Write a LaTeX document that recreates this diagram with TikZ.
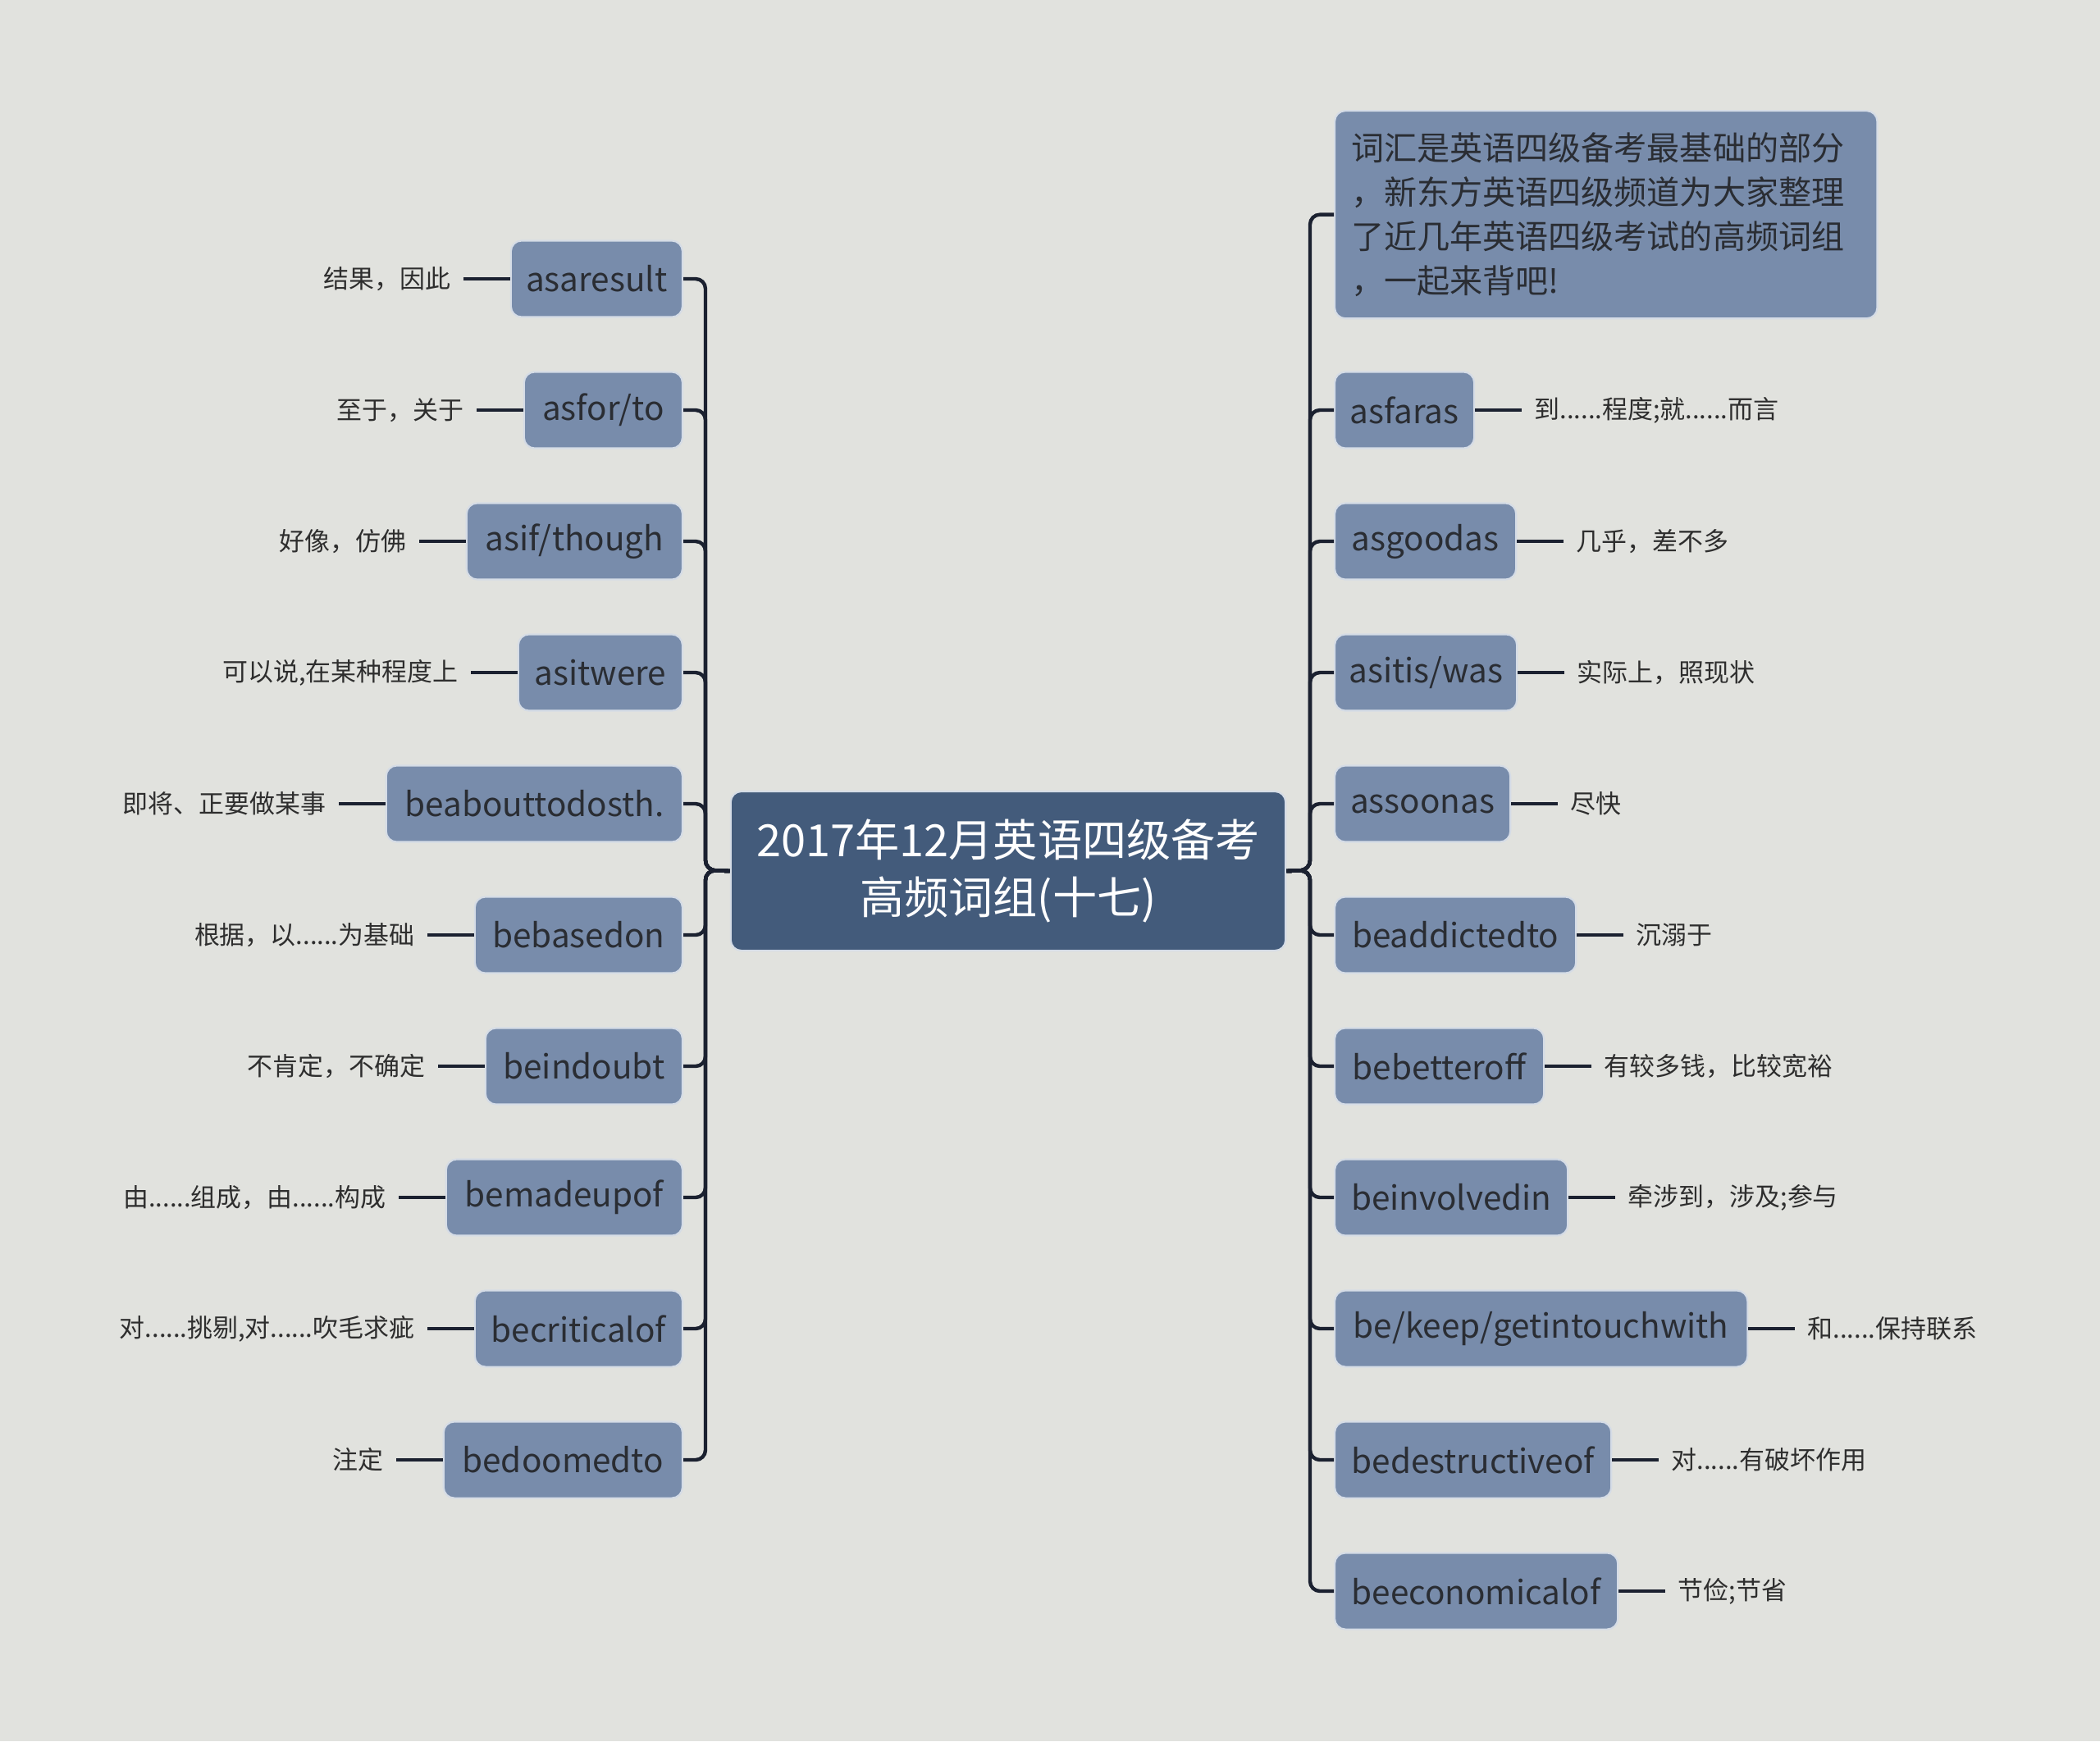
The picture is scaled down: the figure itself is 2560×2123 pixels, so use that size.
\documentclass[tikz,border=0pt]{standalone}
\usepackage{fontspec}
\setmainfont{Noto Sans CJK SC}
\definecolor{bg}{HTML}{E1E2DE}
\definecolor{boxfill}{HTML}{788CAB}
\definecolor{boxline}{HTML}{D5DCE6}
\definecolor{centerfill}{HTML}{435B7B}
\definecolor{connc}{HTML}{1B2130}
\definecolor{labtext}{HTML}{2E2E2E}
\definecolor{boxtext}{HTML}{2A2D33}
\tikzset{
  word/.style={draw=boxline, line width=0.6pt, fill=boxfill, rounded corners=0.13cm,
    minimum height=0.93cm, inner sep=0pt, font=\fontsize{11.5}{14}\selectfont, text=boxtext},
  lab/.style={inner xsep=0.15cm, inner ysep=0pt, font=\fontsize{8.8}{10}\selectfont, text=labtext},
  centerbox/.style={draw=boxline, line width=0.6pt, fill=centerfill, rounded corners=0.13cm,
    minimum width=6.76cm, minimum height=1.94cm, inner sep=0pt, align=center, text=white,
    font=\fontsize{15.4}{20}\selectfont},
  introbox/.style={draw=boxline, line width=0.6pt, fill=boxfill, rounded corners=0.13cm,
    minimum width=6.61cm, minimum height=2.53cm, inner xsep=0.2cm, inner ysep=0pt,
    text width=6.21cm, align=left, text=boxtext, font=\fontsize{11.4}{15.4}\selectfont},
  conn/.style={draw=connc, line width=1.25pt, rounded corners=0.12cm},
}
\begin{document}
\begin{tikzpicture}[x=0.01cm, y=-0.01cm]
\useasboundingbox (0,0) rectangle (2560,2123);
\fill[bg] (0,0) rectangle (2560,2123);

% center
\node[centerbox] (c) at (1229,1062) {2017年12月英语四级备考\\高频词组(十七)};
\coordinate (lj) at (860,1061);
\coordinate (rj) at (1597,1061);

% left boxes
\node[word, minimum width=2.09cm, anchor=east] (l1) at (833,340) {asaresult};
\node[word, minimum width=1.93cm, anchor=east] (l2) at (833,500) {asfor/to};
\node[word, minimum width=2.63cm, anchor=east] (l3) at (833,660) {asif/though};
\node[word, minimum width=2.00cm, anchor=east] (l4) at (833,820) {asitwere};
\node[word, minimum width=3.61cm, anchor=east] (l5) at (833,980) {beabouttodosth.};
\node[word, minimum width=2.53cm, anchor=east] (l6) at (833,1140) {bebasedon};
\node[word, minimum width=2.40cm, anchor=east] (l7) at (833,1300) {beindoubt};
\node[word, minimum width=2.88cm, anchor=east] (l8) at (833,1460) {bemadeupof};
\node[word, minimum width=2.53cm, anchor=east] (l9) at (833,1620) {becriticalof};
\node[word, minimum width=2.91cm, anchor=east] (l10) at (833,1780) {bedoomedto};

% left labels
\node[lab, anchor=east] (tl1) at (565,340) {结果，因此};
\node[lab, anchor=east] (tl2) at (581,500) {至于，关于};
\node[lab, anchor=east] (tl3) at (511,660) {好像，仿佛};
\node[lab, anchor=east] (tl4) at (574,820) {可以说,在某种程度上};
\node[lab, anchor=east] (tl5) at (413,980) {即将、正要做某事};
\node[lab, anchor=east] (tl6) at (521,1140) {根据，以......为基础};
\node[lab, anchor=east] (tl7) at (534,1300) {不肯定，不确定};
\node[lab, anchor=east] (tl8) at (486,1460) {由......组成，由......构成};
\node[lab, anchor=east] (tl9) at (521,1620) {对......挑剔,对......吹毛求疵};
\node[lab, anchor=east] (tl10) at (483,1780) {注定};

% right intro
\node[introbox, anchor=north west] (r0) at (1626,134) {词汇是英语四级备考最基础的部分\\，新东方英语四级频道为大家整理\\了近几年英语四级考试的高频词组\\，一起来背吧!};

% right boxes
\node[word, minimum width=1.70cm, anchor=west] (r1) at (1626,500) {asfaras};
\node[word, minimum width=2.21cm, anchor=west] (r2) at (1626,660) {asgoodas};
\node[word, minimum width=2.22cm, anchor=west] (r3) at (1626,820) {asitis/was};
\node[word, minimum width=2.14cm, anchor=west] (r4) at (1626,980) {assoonas};
\node[word, minimum width=2.94cm, anchor=west] (r5) at (1626,1140) {beaddictedto};
\node[word, minimum width=2.55cm, anchor=west] (r6) at (1626,1300) {bebetteroff};
\node[word, minimum width=2.84cm, anchor=west] (r7) at (1626,1460) {beinvolvedin};
\node[word, minimum width=5.03cm, anchor=west] (r8) at (1626,1620) {be/keep/getintouchwith};
\node[word, minimum width=3.37cm, anchor=west] (r9) at (1626,1780) {bedestructiveof};
\node[word, minimum width=3.45cm, anchor=west] (r10) at (1626,1940) {beeconomicalof};

% right labels
\node[lab, anchor=west] (tr1) at (1855,500) {到......程度;就......而言};
\node[lab, anchor=west] (tr2) at (1906,660) {几乎，差不多};
\node[lab, anchor=west] (tr3) at (1907,820) {实际上，照现状};
\node[lab, anchor=west] (tr4) at (1899,980) {尽快};
\node[lab, anchor=west] (tr5) at (1979,1140) {沉溺于};
\node[lab, anchor=west] (tr6) at (1940,1300) {有较多钱，比较宽裕};
\node[lab, anchor=west] (tr7) at (1969,1460) {牵涉到，涉及;参与};
\node[lab, anchor=west] (tr8) at (2188,1620) {和......保持联系};
\node[lab, anchor=west] (tr9) at (2022,1780) {对......有破坏作用};
\node[lab, anchor=west] (tr10) at (2030,1940) {节俭;节省};

% connectors
\foreach \i in {1,...,10} {
  \draw[conn] (c.west) -- (lj) |- (l\i.east);
  \draw[conn] (l\i.west) -- (tl\i.east);
  \draw[conn] (c.east) -- (rj) |- (r\i.west);
  \draw[conn] (r\i.east) -- (tr\i.west);
}
\draw[conn] (c.east) -- (rj) |- (r0.west);
\end{tikzpicture}
\end{document}
